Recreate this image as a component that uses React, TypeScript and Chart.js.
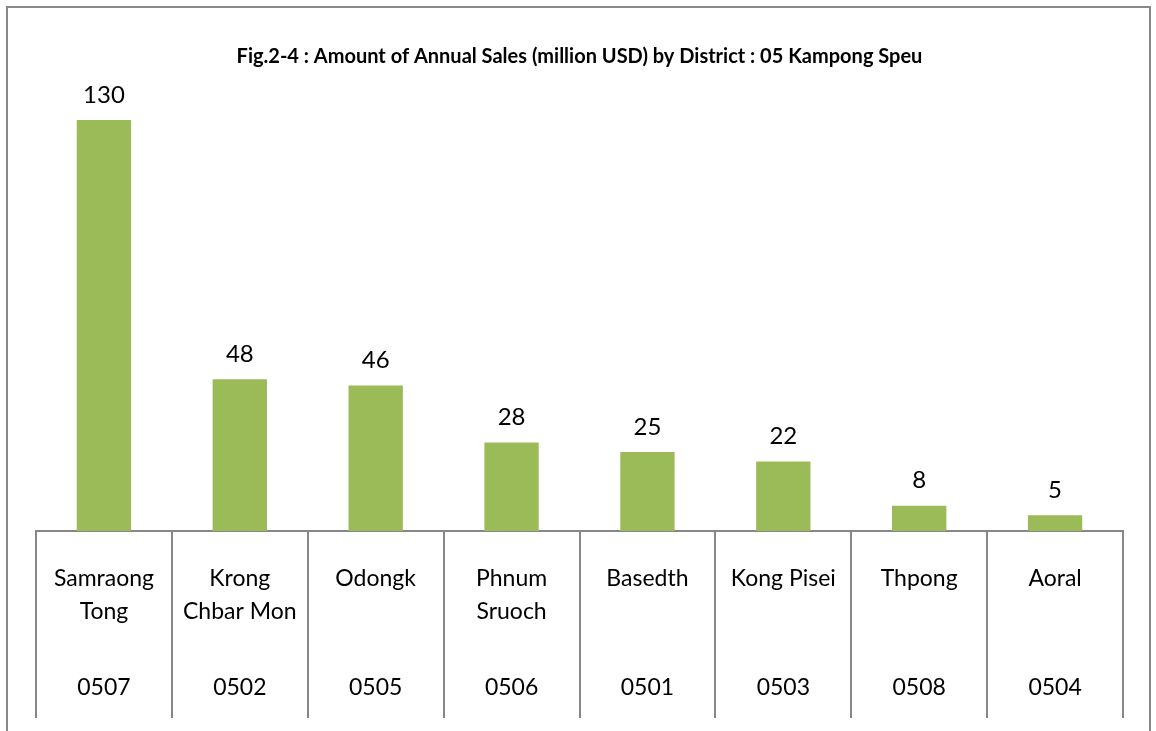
import React, { useEffect, useRef } from "react";
import { Chart, registerables } from "chart.js";

Chart.register(...registerables);

const districtNames: string[][] = [
  ["Samraong", "Tong"],
  ["Krong", "Chbar Mon"],
  ["Odongk"],
  ["Phnum", "Sruoch"],
  ["Basedth"],
  ["Kong Pisei"],
  ["Thpong"],
  ["Aoral"],
];
const districtCodes: string[] = ["0507", "0502", "0505", "0506", "0501", "0503", "0508", "0504"];
const salesValues: number[] = [130, 48, 46, 28, 25, 22, 8, 5];
const titleText = "Fig.2-4 : Amount of Annual Sales (million USD) by District : 05 Kampong Speu";

const FONT = "Lato, 'Open Sans', sans-serif";

const labelPlugin = {
  id: "customLabels",
  afterDraw(chart: any) {
    const ctx = chart.ctx;
    const meta = chart.getDatasetMeta(0);
    const xScale = chart.scales.x;
    ctx.save();
    ctx.fillStyle = "#000";
    ctx.textAlign = "center";
    ctx.textBaseline = "middle";
    ctx.font = `24px ${FONT}`;
    meta.data.forEach((bar: any, i: number) => {
      ctx.fillText(String(salesValues[i]), bar.x, bar.y - 25);
    });
    ctx.font = `23px ${FONT}`;
    districtNames.forEach((lines, i) => {
      const cx = xScale.getPixelForValue(i);
      lines.forEach((ln, j) => {
        ctx.fillText(ln, cx, xScale.top + 48 + j * 33);
      });
      ctx.fillText(districtCodes[i], cx, xScale.top + 157);
    });
    ctx.restore();
  },
};

export default function App() {
  const ref = useRef<HTMLCanvasElement>(null);
  useEffect(() => {
    if (!ref.current) return;
    const chart = new Chart(ref.current, {
      type: "bar",
      data: {
        labels: districtCodes,
        datasets: [
          {
            data: salesValues,
            backgroundColor: "#9BBB59",
            borderWidth: 0,
            categoryPercentage: 1,
            barPercentage: 0.4,
          },
        ],
      },
      options: {
        responsive: false,
        animation: false,
        layout: { padding: { left: 36, right: 33, top: 0, bottom: 0 } },
        plugins: {
          legend: { display: false },
          tooltip: { enabled: false },
          title: {
            display: true,
            text: titleText,
            color: "#000",
            font: { family: FONT, size: 20, weight: "bold", lineHeight: 1.2 },
            padding: { top: 45, bottom: 19.5 },
          },
        },
        scales: {
          x: {
            ticks: { display: false },
            grid: {
              offset: true,
              drawOnChartArea: false,
              drawTicks: true,
              tickLength: 187,
              color: "#878787",
              lineWidth: 2,
            },
            border: { display: true, color: "#878787", width: 2 },
            afterFit: (scale: any) => {
              scale.height = 200;
            },
          },
          y: {
            display: false,
            min: 0,
            max: 140,
          },
        },
      },
      plugins: [labelPlugin],
    });
    return () => chart.destroy();
  }, []);
  return (
    <div style={{ position: "fixed", left: 0, top: 0, width: 1156, height: 731, background: "#fff", overflow: "hidden" }}>
      <div
        style={{
          position: "absolute",
          left: 6,
          top: 6,
          width: 1145,
          height: 760,
          borderLeft: "2px solid #898989",
          borderTop: "2px solid #898989",
          borderRight: "2px solid #898989",
          boxSizing: "border-box",
        }}
      />
      <canvas ref={ref} width={1156} height={731} style={{ position: "absolute", left: 0, top: 0 }} />
    </div>
  );
}
